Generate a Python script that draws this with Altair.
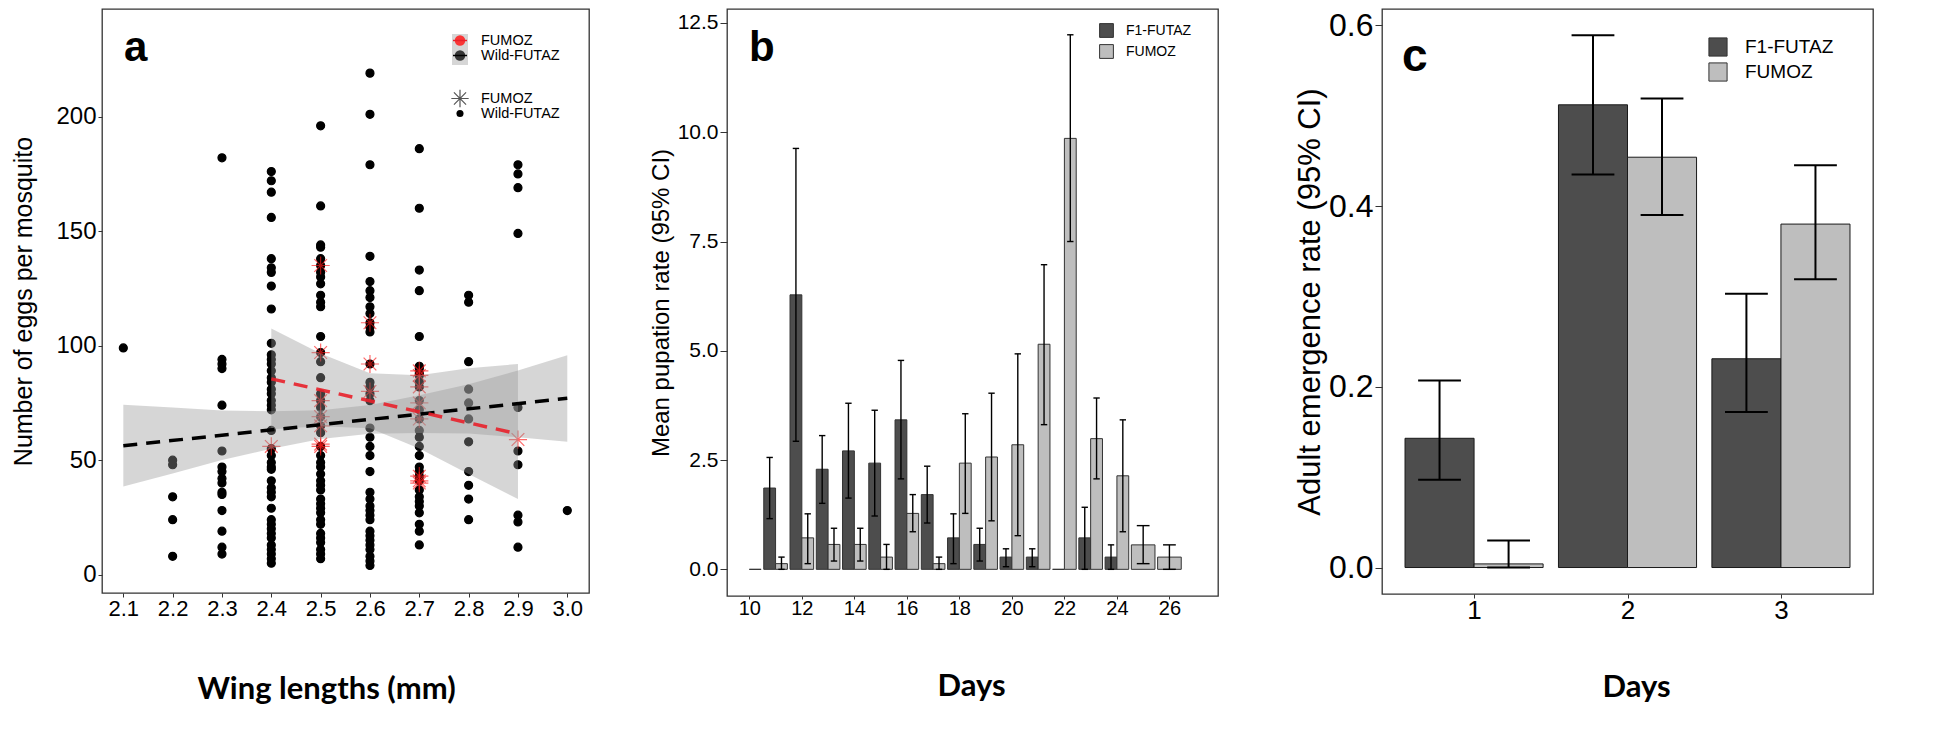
import altair as alt
import pandas as pd

FONT = "Liberation Sans"
TITLE_FONT = "Lato"

# ---------------- Panel a : eggs vs wing length ----------------
wing_lengths = [2.1, 2.2, 2.3, 2.4, 2.5, 2.6, 2.7, 2.8, 2.9, 3.0]
wild_2_1 = [99]
wild_2_2 = [50, 48, 34, 24, 8]
wild_2_3 = [182, 94, 92, 90, 74, 54, 47, 45, 42, 40, 36, 35, 28, 19, 12, 9]
wild_2_4 = [176, 172, 167, 156, 138, 134, 132, 126, 116, 101, 96, 94, 92, 89, 86, 84, 81,
            79, 76, 74, 72, 63, 55, 52, 49, 47, 46, 41, 38, 36, 34, 29, 24, 22, 20, 18, 16,
            13, 11, 9, 7, 5]
wild_2_5 = [196, 161, 144, 143, 138, 135, 132, 130, 127, 122, 119, 117, 104, 97, 93, 86, 79,
            76, 73, 69, 65, 62, 56, 52, 49, 47, 44, 41, 39, 37, 33, 31, 29, 27, 24, 22, 18,
            16, 14, 11, 9, 7]
wild_2_6 = [219, 201, 179, 139, 128, 124, 121, 117, 114, 110, 108, 106, 92, 84, 82, 79, 76,
            64, 60, 56, 52, 45, 36, 33, 30, 28, 26, 24, 19, 17, 15, 13, 11, 8, 6, 4]
wild_2_7 = [186, 160, 133, 124, 104, 91, 90, 88, 87, 84, 82, 76, 72, 68, 63, 60, 56, 52, 47,
            45, 43, 41, 37, 34, 32, 30, 27, 22, 19, 13]
wild_2_8 = [122, 119, 93, 81, 75, 68, 58, 45, 39, 33, 24]
wild_2_9 = [179, 175, 169, 149, 73, 54, 48, 26, 23, 12]
wild_3_0 = [28]
wild_columns = [wild_2_1, wild_2_2, wild_2_3, wild_2_4, wild_2_5,
                wild_2_6, wild_2_7, wild_2_8, wild_2_9, wild_3_0]

fumoz_wing = [2.4, 2.5, 2.6, 2.7, 2.9]
fumoz_2_4 = [56]
fumoz_2_5 = [135, 97, 76, 69, 65, 57, 56]
fumoz_2_6 = [110, 92, 80]
fumoz_2_7 = [89, 87, 82, 75, 68, 43, 41, 40]
fumoz_2_9 = [59]
fumoz_columns = [fumoz_2_4, fumoz_2_5, fumoz_2_6, fumoz_2_7, fumoz_2_9]

# fitted lines and confidence bands
wild_fit_x = [2.1, 3.0]
wild_fit_y = [56.3, 77.0]
wild_band_x = [2.1, 2.2, 2.3, 2.4, 2.5, 2.6, 2.7, 2.8, 2.9, 3.0]
wild_band_lo = [38.5, 44.2, 50.1, 55.0, 59.2, 61.5, 61.9, 61.6, 60.0, 58.0]
wild_band_hi = [74.2, 73.0, 71.7, 71.4, 71.8, 74.1, 78.3, 83.2, 89.1, 95.8]
fumoz_fit_x = [2.4, 2.9]
fumoz_fit_y = [85.5, 61.5]
fumoz_band_x = [2.4, 2.5, 2.6, 2.7, 2.8, 2.9]
fumoz_band_lo = [63.5, 64.8, 63.9, 55.1, 44.0, 33.0]
fumoz_band_hi = [107.5, 96.6, 87.9, 87.1, 90.1, 92.0]

# ---------------- Panel b : pupation per day ----------------
b_f1_days = list(range(10, 25))
b_f1_mean = [None, 1.86, 6.28, 2.29, 2.71, 2.43, 3.42, 1.71, 0.72, 0.57, 0.28, 0.28, 0.0, 0.72, 0.28]
b_f1_lo = [None, 1.16, 2.93, 1.51, 1.63, 1.22, 2.07, 1.06, 0.13, 0.19, 0.06, 0.06, None, 0.0, 0.0]
b_f1_hi = [None, 2.56, 9.63, 3.06, 3.80, 3.64, 4.78, 2.36, 1.27, 0.94, 0.47, 0.47, None, 1.42, 0.56]
b_fumoz_days = list(range(10, 27))
b_fumoz_mean = [0.0, 0.13, 0.72, 0.57, 0.57, 0.28, 1.28, 0.13, 2.43, 2.57, 2.85, 5.15, 9.86,
                2.99, 2.14, 0.56, 0.28]
b_fumoz_lo = [None, 0.0, 0.13, 0.19, 0.19, 0.0, 0.86, 0.0, 1.28, 1.11, 0.77, 3.31, 7.50,
              2.07, 0.86, 0.13, 0.0]
b_fumoz_hi = [None, 0.28, 1.27, 0.94, 0.94, 0.57, 1.71, 0.28, 3.56, 4.03, 4.93, 6.97, 12.23,
              3.92, 3.42, 1.00, 0.56]
b_ticks = [10, 12, 14, 16, 18, 20, 22, 24, 26]

# ---------------- Panel c : adult emergence ----------------
c_days = [1, 2, 3]
c_f1_mean = [0.143, 0.512, 0.231]
c_f1_lo = [0.097, 0.435, 0.172]
c_f1_hi = [0.207, 0.589, 0.303]
c_fumoz_mean = [0.004, 0.454, 0.380]
c_fumoz_lo = [0.0, 0.390, 0.319]
c_fumoz_hi = [0.030, 0.519, 0.445]

groups_bar = ["F1-FUTAZ", "FUMOZ"]
bar_colors = ["#4d4d4d", "#bebebe"]
groups_pts = ["FUMOZ", "Wild-FUTAZ"]
pt_colors = ["#ff1a1a", "#000000"]
ASTERISK = "M0,-1L0,1M-1,0L1,0M-0.7,-0.7L0.7,0.7M-0.7,0.7L0.7,-0.7"

# ---------- build tables ----------
pt_rows = []
for w, col in zip(wing_lengths, wild_columns):
    for v in col:
        pt_rows.append({"wing": w, "eggs": v, "group": groups_pts[1]})
for w, col in zip(fumoz_wing, fumoz_columns):
    for v in col:
        pt_rows.append({"wing": w, "eggs": v, "group": groups_pts[0]})
pts = pd.DataFrame(pt_rows)

bands = pd.concat([
    pd.DataFrame({"x": wild_band_x, "lo": wild_band_lo, "hi": wild_band_hi, "g": groups_pts[1]}),
    pd.DataFrame({"x": fumoz_band_x, "lo": fumoz_band_lo, "hi": fumoz_band_hi, "g": groups_pts[0]}),
])
fit_wild = pd.DataFrame({"x": wild_fit_x, "y": wild_fit_y})
fit_fumoz = pd.DataFrame({"x": fumoz_fit_x, "y": fumoz_fit_y})


def dodge_table(series, cap_ratio):
    """series: list of (group, days, mean, lo, hi). ggplot-like dodge, total width 0.9."""
    day_sets = [set(d) for (_, d, _, _, _) in series]
    bars, errs = [], []
    for gi, (g, days, mean, lo, hi) in enumerate(series):
        for i, d in enumerate(days):
            if mean[i] is None:
                continue
            shared = all(d in s for s in day_sets)
            if shared:
                x0 = d - 0.45 + 0.45 * gi
                x1 = x0 + 0.45
            else:
                x0, x1 = d - 0.45, d + 0.45
            bars.append({"x0": x0, "x1": x1, "mean": mean[i], "group": g})
            if lo[i] is not None:
                c = (x0 + x1) / 2
                hw = (x1 - x0) * cap_ratio
                errs.append({"xc": c, "cx0": c - hw, "cx1": c + hw, "lo": lo[i], "hi": hi[i]})
    return pd.DataFrame(bars), pd.DataFrame(errs)


b_bars, b_errs = dodge_table([
    ("F1-FUTAZ", b_f1_days, b_f1_mean, b_f1_lo, b_f1_hi),
    ("FUMOZ", b_fumoz_days, b_fumoz_mean, b_fumoz_lo, b_fumoz_hi),
], 0.27)
c_bars, c_errs = dodge_table([
    ("F1-FUTAZ", c_days, c_f1_mean, c_f1_lo, c_f1_hi),
    ("FUMOZ", c_days, c_fumoz_mean, c_fumoz_lo, c_fumoz_hi),
], 0.31)


def one(label):
    return pd.DataFrame({"t": [label]})


def letter(ch, x, y, size):
    return alt.Chart(one(ch)).mark_text(
        font=FONT, fontWeight="bold", fontSize=size, align="left", baseline="alphabetic", color="black"
    ).encode(text="t:N", x=alt.value(x), y=alt.value(y))


def key_text(label, x, y, size=15):
    return alt.Chart(one(label)).mark_text(
        font=FONT, fontSize=size, align="left", baseline="middle", color="black"
    ).encode(text="t:N", x=alt.value(x), y=alt.value(y))


def key_symbol(label, x, y, **mark):
    return alt.Chart(one(label)).mark_point(**mark).encode(x=alt.value(x), y=alt.value(y))


# ---------- Panel a ----------
xa = alt.Scale(domain=[2.0568, 3.044], nice=False, zero=False)
ya = alt.Scale(domain=[-8, 247], nice=False, zero=False)

points = alt.Chart(pts).mark_point(filled=True, strokeWidth=1.2).encode(
    x=alt.X("wing:Q", scale=xa, axis=alt.Axis(
        values=wing_lengths, format=".1f", title="Wing lengths (mm)", titleFont=TITLE_FONT,
        titleFontSize=31, titleFontWeight="bold", titlePadding=55, titleX=224,
        labelFontSize=22, tickSize=4, labelPadding=1, grid=False, domain=False)),
    y=alt.Y("eggs:Q", scale=ya, axis=alt.Axis(
        values=[0, 50, 100, 150, 200], title="Number of eggs per mosquito", titleFontSize=25,
        titleFontWeight="normal", titlePadding=19, labelFontSize=24, tickSize=4, labelPadding=2,
        grid=False, domain=False)),
    fill=alt.Fill("group:N", scale=alt.Scale(domain=groups_pts, range=pt_colors), legend=None),
    stroke=alt.Stroke("group:N", scale=alt.Scale(domain=groups_pts, range=pt_colors), legend=None),
    opacity=alt.Opacity("group:N", scale=alt.Scale(domain=groups_pts, range=[0.65, 1.0]), legend=None),
    shape=alt.Shape("group:N", scale=alt.Scale(domain=groups_pts, range=[ASTERISK, "circle"]),
                    legend=None),
    size=alt.Size("group:N", scale=alt.Scale(domain=groups_pts, range=[330, 64]), legend=None),
)

band_layer = alt.Chart(bands).mark_area(opacity=0.4, color="#999999").encode(
    x=alt.X("x:Q", scale=xa), y=alt.Y("lo:Q", scale=ya), y2="hi:Q", detail="g:N")

fit_w = alt.Chart(fit_wild).mark_line(color="black", strokeWidth=3.5, strokeDash=[14, 9]).encode(
    x=alt.X("x:Q", scale=xa), y=alt.Y("y:Q", scale=ya))
fit_f = alt.Chart(fit_fumoz).mark_line(color="#e8202a", opacity=0.9, strokeWidth=3.5,
                                       strokeDash=[14, 9]).encode(
    x=alt.X("x:Q", scale=xa), y=alt.Y("y:Q", scale=ya))

# keys of panel a (two legends, drawn in pixel space of the panel)
key_bg = alt.Chart(one("bg")).mark_rect(color="#999999", opacity=0.4).encode(
    x=alt.value(350), x2=alt.value(366), y=alt.value(25), y2=alt.value(56))
key_line_f = alt.Chart(one(groups_pts[0])).mark_rule(color="#e8202a", strokeWidth=1.5).encode(
    x=alt.value(351), x2=alt.value(365), y=alt.value(31.5))
key_line_w = alt.Chart(one(groups_pts[1])).mark_rule(color="black", strokeWidth=1.5).encode(
    x=alt.value(351), x2=alt.value(365), y=alt.value(46.5))
keys_a = [
    key_bg,
    key_symbol(groups_pts[0], 358, 31.5, shape="circle", size=110, filled=True, color="#ff1a1a", opacity=0.85),
    key_symbol(groups_pts[1], 358, 46.5, shape="circle", size=110, filled=True, color="#000000", opacity=0.75),
    key_line_f, key_line_w,
    key_text(groups_pts[0], 379, 32, 14.5), key_text(groups_pts[1], 379, 47, 14.5),
    key_symbol(groups_pts[0], 358, 89.5, shape=ASTERISK, size=300, filled=False, stroke="#555555",
               strokeWidth=1.2, opacity=1),
    key_symbol(groups_pts[1], 358, 104.5, shape="circle", size=50, filled=True, color="black", opacity=1),
    key_text(groups_pts[0], 379, 90, 14.5), key_text(groups_pts[1], 379, 105, 14.5),
]

panel_a = alt.layer(
    points, band_layer, fit_w, fit_f, *keys_a, letter("a", 22, 52, 42),
).properties(width=487, height=584)

# ---------- Panel b ----------
xb = alt.Scale(domain=[9.15, 27.85], nice=False, zero=False)
yb = alt.Scale(domain=[-0.61, 12.82], nice=False, zero=False)

b_bar = alt.Chart(b_bars).mark_bar(stroke="#333333", strokeWidth=1).encode(
    x=alt.X("x0:Q", scale=xb, axis=alt.Axis(
        values=b_ticks, title="Days", titleFont=TITLE_FONT, titleFontSize=31, titleFontWeight="bold",
        titlePadding=53, titleX=244, labelFontSize=20, tickSize=3, labelPadding=-1, grid=False,
        domain=False)),
    x2="x1:Q",
    y=alt.Y("mean:Q", scale=yb, axis=alt.Axis(
        values=[0, 2.5, 5, 7.5, 10, 12.5], format=".1f", title="Mean pupation rate (95% CI)",
        titleFontSize=24, titleFontWeight="normal", titlePadding=4, labelFontSize=21, tickSize=7,
        labelPadding=2, grid=False, domain=False)),
    y2=alt.datum(0),
    fill=alt.Fill("group:N", scale=alt.Scale(domain=groups_bar, range=bar_colors),
                  legend=alt.Legend(title=None, orient="none", legendX=372, legendY=14,
                                    symbolType="square", symbolSize=190, symbolStrokeColor="#333333",
                                    symbolStrokeWidth=1, symbolOpacity=1, labelFontSize=14,
                                    labelOffset=12, rowPadding=2)),
)
b_err = alt.Chart(b_errs).mark_rule(color="black", strokeWidth=1.4).encode(
    x=alt.X("xc:Q", scale=xb), y=alt.Y("lo:Q", scale=yb), y2="hi:Q")
b_cap_lo = alt.Chart(b_errs).mark_rule(color="black", strokeWidth=1.4).encode(
    x=alt.X("cx0:Q", scale=xb), x2="cx1:Q", y=alt.Y("lo:Q", scale=yb))
b_cap_hi = alt.Chart(b_errs).mark_rule(color="black", strokeWidth=1.4).encode(
    x=alt.X("cx0:Q", scale=xb), x2="cx1:Q", y=alt.Y("hi:Q", scale=yb))

panel_b = alt.layer(b_bar, b_err, b_cap_lo, b_cap_hi, letter("b", 22, 52, 42)).properties(
    width=491, height=587)

# ---------- Panel c ----------
xc = alt.Scale(domain=[0.4, 3.6], nice=False, zero=False)
yc = alt.Scale(domain=[-0.0293, 0.618], nice=False, zero=False)

c_bar = alt.Chart(c_bars).mark_bar(stroke="#1a1a1a", strokeWidth=1).encode(
    x=alt.X("x0:Q", scale=xc, axis=alt.Axis(
        values=c_days, format="d", title="Days", titleFont=TITLE_FONT, titleFontSize=31,
        titleFontWeight="bold", titlePadding=49, titleX=254, labelFontSize=26, tickSize=4,
        labelPadding=-1, grid=False, domain=False)),
    x2="x1:Q",
    y=alt.Y("mean:Q", scale=yc, axis=alt.Axis(
        values=[0, 0.2, 0.4, 0.6], format=".1f", title="Adult emergence rate (95% CI)",
        titleFontSize=31, titleFontWeight="normal", titlePadding=2, labelFontSize=32, tickSize=7,
        labelPadding=2, grid=False, domain=False)),
    y2=alt.datum(0),
    fill=alt.Fill("group:N", scale=alt.Scale(domain=groups_bar, range=bar_colors),
                  legend=alt.Legend(title=None, orient="none", legendX=326, legendY=28,
                                    symbolType="square", symbolSize=330, symbolStrokeColor="#333333",
                                    symbolStrokeWidth=1, symbolOpacity=1, labelFontSize=19,
                                    labelOffset=17, rowPadding=1)),
)
c_err = alt.Chart(c_errs).mark_rule(color="black", strokeWidth=2).encode(
    x=alt.X("xc:Q", scale=xc), y=alt.Y("lo:Q", scale=yc), y2="hi:Q")
c_cap_lo = alt.Chart(c_errs).mark_rule(color="black", strokeWidth=2).encode(
    x=alt.X("cx0:Q", scale=xc), x2="cx1:Q", y=alt.Y("lo:Q", scale=yc))
c_cap_hi = alt.Chart(c_errs).mark_rule(color="black", strokeWidth=2).encode(
    x=alt.X("cx0:Q", scale=xc), x2="cx1:Q", y=alt.Y("hi:Q", scale=yc))

panel_c = alt.layer(c_bar, c_err, c_cap_lo, c_cap_hi, letter("c", 20, 62, 46)).properties(
    width=491, height=585)

chart = alt.hconcat(
    panel_a,
    alt.hconcat(panel_b, panel_c, spacing=74).resolve_scale(fill="independent", x="independent", y="independent"),
    spacing=58,
).resolve_scale(fill="independent", x="independent", y="independent", color="independent",
                stroke="independent", shape="independent", size="independent", opacity="independent"
).configure(
    padding={"left": 3, "top": 0, "right": 0, "bottom": 0}, background="white", font=FONT,
).configure_view(
    stroke="#333333", strokeWidth=1.3,
).configure_axis(
    labelFont=FONT, titleFont=FONT, labelColor="black", titleColor="black", tickColor="#333333",
    labelFontWeight="normal",
).configure_legend(
    labelFont=FONT, labelColor="black",
)

chart.save("out.html", embed_options={"renderer": "svg", "actions": False})
